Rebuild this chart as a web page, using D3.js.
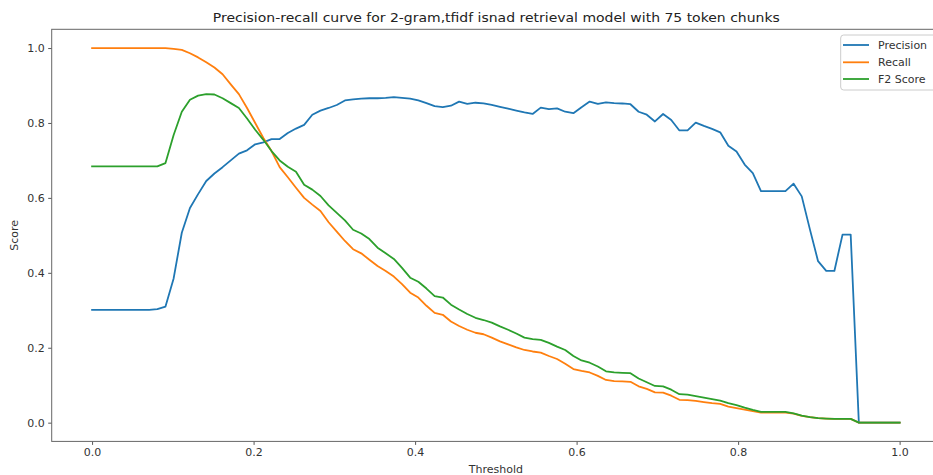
<!DOCTYPE html>
<html>
<head>
<meta charset="utf-8">
<script src="https://cdn.jsdelivr.net/npm/d3@7/dist/d3.min.js"></script>
<style>
  html, body { margin: 0; padding: 0; background: #fff; }
  svg { display: block; font-family: "DejaVu Sans", sans-serif; }
</style>
</head>
<body>
<svg id="chart" width="933" height="475"></svg>
<script>
const titleText = "Precision-recall curve for 2-gram,tfidf isnad retrieval model with 75 token chunks";
const xLabel = "Threshold";
const yLabel = "Score";
const xTicks = [0.0, 0.2, 0.4, 0.6, 0.8, 1.0];
const yTicks = [0.0, 0.2, 0.4, 0.6, 0.8, 1.0];
const seriesNames = ["Precision", "Recall", "F2 Score"];

const thresholds = [0,0.0101,0.0202,0.0303,0.0404,0.0505,0.0606,0.0707,0.0808,0.0909,
  0.1010,0.1111,0.1212,0.1313,0.1414,0.1515,0.1616,0.1717,0.1818,0.1919,
  0.2020,0.2121,0.2222,0.2323,0.2424,0.2525,0.2626,0.2727,0.2828,0.2929,
  0.3030,0.3131,0.3232,0.3333,0.3434,0.3535,0.3636,0.3737,0.3838,0.3939,
  0.4040,0.4141,0.4242,0.4343,0.4444,0.4545,0.4646,0.4747,0.4848,0.4949,
  0.5051,0.5152,0.5253,0.5354,0.5455,0.5556,0.5657,0.5758,0.5859,0.5960,
  0.6061,0.6162,0.6263,0.6364,0.6465,0.6566,0.6667,0.6768,0.6869,0.6970,
  0.7071,0.7172,0.7273,0.7374,0.7475,0.7576,0.7677,0.7778,0.7879,0.7980,
  0.8081,0.8182,0.8283,0.8384,0.8485,0.8586,0.8687,0.8788,0.8889,0.8990,
  0.9091,0.9192,0.9293,0.9394,0.9495,0.9596,0.9697,0.9798,0.9899,1.0];

const precision = [0.301,0.301,0.301,0.301,0.301,0.301,0.301,0.301,0.303,0.310,
  0.385,0.507,0.573,0.610,0.645,0.665,0.682,0.700,0.718,0.727,
  0.743,0.748,0.757,0.757,0.773,0.785,0.795,0.822,0.833,0.840,
  0.848,0.860,0.863,0.865,0.866,0.866,0.867,0.869,0.867,0.865,
  0.860,0.853,0.845,0.842,0.846,0.857,0.851,0.854,0.852,0.848,
  0.843,0.838,0.833,0.828,0.824,0.841,0.837,0.839,0.830,0.826,
  0.842,0.857,0.851,0.855,0.853,0.852,0.850,0.830,0.822,0.804,
  0.824,0.808,0.780,0.780,0.801,0.792,0.784,0.775,0.739,0.724,
  0.689,0.666,0.618,0.618,0.618,0.618,0.638,0.604,0.516,0.431,
  0.405,0.405,0.502,0.502,0,0,0,0,0,0];

const recall = [1,1,1,1,1,1,1,1,1,1,
  0.998,0.995,0.986,0.975,0.962,0.948,0.930,0.903,0.877,0.840,
  0.800,0.760,0.725,0.682,0.655,0.627,0.600,0.582,0.565,0.535,
  0.510,0.485,0.463,0.452,0.435,0.418,0.405,0.390,0.370,0.347,
  0.334,0.312,0.293,0.288,0.270,0.258,0.248,0.240,0.236,0.227,
  0.217,0.209,0.201,0.194,0.190,0.187,0.178,0.170,0.157,0.143,
  0.138,0.134,0.125,0.114,0.111,0.110,0.109,0.097,0.090,0.081,
  0.080,0.072,0.061,0.060,0.058,0.055,0.052,0.050,0.043,0.039,
  0.035,0.031,0.027,0.027,0.027,0.027,0.024,0.018,0.015,0.012,
  0.011,0.010,0.010,0.010,0,0,0,0,0,0];

const f2score = [0.684,0.684,0.684,0.684,0.684,0.684,0.684,0.684,0.684,0.693,
  0.768,0.830,0.862,0.873,0.877,0.876,0.866,0.853,0.840,0.812,
  0.782,0.755,0.725,0.700,0.683,0.670,0.635,0.622,0.605,0.580,
  0.560,0.540,0.515,0.505,0.490,0.467,0.452,0.437,0.413,0.387,
  0.376,0.358,0.338,0.334,0.315,0.302,0.290,0.280,0.274,0.267,
  0.257,0.248,0.238,0.227,0.223,0.221,0.213,0.203,0.194,0.178,
  0.166,0.160,0.150,0.137,0.134,0.133,0.132,0.118,0.108,0.098,
  0.097,0.088,0.076,0.075,0.071,0.067,0.063,0.059,0.052,0.047,
  0.040,0.034,0.029,0.029,0.029,0.029,0.025,0.019,0.015,0.012,
  0.011,0.010,0.010,0.010,0,0,0,0,0,0];

const colors = ["#1f77b4", "#ff7f0e", "#2ca02c"];
const seriesValues = [precision, recall, f2score];

const svg = d3.select("#chart");
const pL = 51.7, pR = 940, pT = 29.3, pB = 441.4;

const x = d3.scaleLinear().domain([-0.05, 1.05]).range([pL, pR]);
const y = d3.scaleLinear().domain([-0.05, 1.05]).range([pB, pT]);

svg.append("defs").append("clipPath").attr("id", "clip")
  .append("rect").attr("x", pL).attr("y", pT)
  .attr("width", pR - pL).attr("height", pB - pT);

// lines
const line = d3.line().x(d => x(d[0])).y(d => y(d[1]));
const plot = svg.append("g").attr("clip-path", "url(#clip)");
seriesValues.forEach((vals, k) => {
  const pts = thresholds.map((t, i) => [t, vals[i]]);
  plot.append("path").datum(pts)
    .attr("d", line)
    .attr("fill", "none")
    .attr("stroke", colors[k])
    .attr("stroke-width", 1.8)
    .attr("stroke-linejoin", "round")
    .attr("stroke-linecap", "square");
});

// axes
const xAxis = svg.append("g").attr("transform", `translate(0,${pB})`)
  .call(d3.axisBottom(x).tickValues(xTicks).tickFormat(d3.format(".1f")).tickSize(3.5).tickPadding(3.5));
const yAxis = svg.append("g").attr("transform", `translate(${pL},0)`)
  .call(d3.axisLeft(y).tickValues(yTicks).tickFormat(d3.format(".1f")).tickSize(3.5).tickPadding(3.5));
[xAxis, yAxis].forEach(g => {
  g.select(".domain").remove();
  g.selectAll(".tick line").attr("stroke", "#444").attr("stroke-width", 0.9);
  g.selectAll(".tick text").attr("fill", "#333").style("font-size", "11px")
    .style("font-family", "DejaVu Sans, sans-serif");
});

// frame
svg.append("rect").attr("x", pL).attr("y", pT)
  .attr("width", pR - pL).attr("height", pB - pT)
  .attr("fill", "none").attr("stroke", "#666").attr("stroke-width", 1);

// title & labels
svg.append("text").attr("x", 496.3).attr("y", 21.5)
  .attr("text-anchor", "middle").attr("fill", "#222")
  .attr("textLength", 567).attr("lengthAdjust", "spacingAndGlyphs")
  .style("font-size", "13px").text(titleText);
svg.append("text").attr("x", (pL + pR) / 2).attr("y", 473)
  .attr("text-anchor", "middle").attr("fill", "#333")
  .style("font-size", "11px").text(xLabel);
svg.append("text")
  .attr("transform", `translate(18,${(pT + pB) / 2}) rotate(-90)`)
  .attr("text-anchor", "middle").attr("fill", "#333")
  .style("font-size", "11px").text(yLabel);

// legend
const lg = svg.append("g");
lg.append("rect").attr("x", 840.7).attr("y", 35).attr("width", 120).attr("height", 55)
  .attr("rx", 3).attr("fill", "#fff").attr("fill-opacity", 0.8)
  .attr("stroke", "#ccc").attr("stroke-width", 1);
const ly = [45, 62.3, 79];
seriesNames.forEach((name, k) => {
  lg.append("line").attr("x1", 843).attr("x2", 869).attr("y1", ly[k]).attr("y2", ly[k])
    .attr("stroke", colors[k]).attr("stroke-width", 1.8);
  lg.append("text").attr("x", 878).attr("y", ly[k]).attr("dy", "0.35em")
    .attr("fill", "#333").style("font-size", "11px").text(name);
});
</script>
</body>
</html>
